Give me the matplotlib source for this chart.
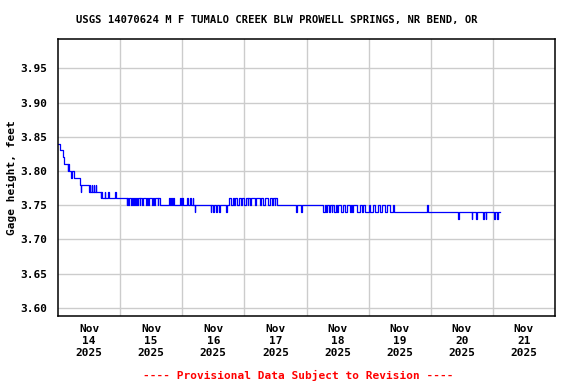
import numpy as np
import matplotlib
matplotlib.use("Agg")
import matplotlib.pyplot as plt

# gage height step changes, (hours since Nov 14 00:00, feet)
nov14 = [(0.0, 3.84), (0.75, 3.83), (1.75, 3.82), (2.5, 3.81), (3.75, 3.80), (4.0, 3.81),
         (4.25, 3.80), (5.0, 3.79), (5.25, 3.80), (6.25, 3.79), (8.5, 3.78), (8.75, 3.77),
         (9.0, 3.78), (12.0, 3.77), (12.25, 3.78), (12.5, 3.77), (13.0, 3.78), (13.25, 3.77),
         (13.75, 3.78), (14.0, 3.77), (14.5, 3.78), (14.75, 3.77), (16.5, 3.76), (16.75, 3.77),
         (17.0, 3.76), (18.0, 3.77), (18.25, 3.76), (19.5, 3.77), (19.75, 3.76), (22.0, 3.77),
         (22.25, 3.76)]
nov15 = [(26.5, 3.75), (26.75, 3.76), (27.0, 3.75), (27.25, 3.76), (28.25, 3.75), (28.5, 3.76),
         (29.0, 3.75), (29.25, 3.76), (29.75, 3.75), (30.0, 3.76), (30.5, 3.75), (30.75, 3.76),
         (31.5, 3.75), (31.75, 3.76), (32.5, 3.75), (32.75, 3.76), (34.0, 3.75), (34.25, 3.76),
         (34.75, 3.75), (35.0, 3.76), (36.5, 3.75), (36.75, 3.76), (37.25, 3.75), (37.5, 3.76),
         (38.5, 3.75), (38.75, 3.76), (39.5, 3.75), (43.0, 3.76), (43.25, 3.75), (43.75, 3.76),
         (44.0, 3.75), (44.5, 3.76), (44.75, 3.75), (47.0, 3.76), (47.5, 3.75)]
nov16 = [(48.0, 3.76), (48.25, 3.75), (49.75, 3.76), (50.25, 3.75), (51.0, 3.76), (51.25, 3.75),
         (52.0, 3.76), (52.25, 3.75), (52.75, 3.74), (53.0, 3.75), (59.0, 3.74), (59.25, 3.75),
         (60.0, 3.74), (60.25, 3.75), (61.0, 3.74), (61.5, 3.75), (62.25, 3.74), (62.5, 3.75),
         (65.0, 3.74), (65.25, 3.75), (66.25, 3.76), (66.75, 3.75), (67.5, 3.76), (68.0, 3.75),
         (68.5, 3.76), (69.25, 3.75), (70.0, 3.76), (70.75, 3.75), (71.0, 3.76), (72.0, 3.75)]
nov17 = [(72.75, 3.76), (73.25, 3.75), (73.5, 3.76), (74.0, 3.75), (74.75, 3.76), (76.0, 3.75),
         (76.5, 3.76), (78.0, 3.75), (78.5, 3.76), (79.25, 3.75), (80.0, 3.76), (81.25, 3.75),
         (81.75, 3.76), (82.5, 3.75), (83.0, 3.76), (83.75, 3.75), (84.0, 3.76), (84.75, 3.75),
         (92.0, 3.74), (92.5, 3.75), (94.0, 3.74), (94.25, 3.75)]
nov18 = [(102.5, 3.74), (103.0, 3.75), (103.5, 3.74), (104.0, 3.75), (104.5, 3.74), (105.25, 3.75),
         (105.75, 3.74), (106.0, 3.75), (106.5, 3.74), (107.25, 3.75), (107.75, 3.74), (108.0, 3.75),
         (109.25, 3.74), (110.0, 3.75), (110.75, 3.74), (111.75, 3.75), (112.75, 3.74), (113.0, 3.75),
         (113.75, 3.74), (114.0, 3.75), (115.5, 3.74), (116.5, 3.75), (117.25, 3.74), (118.0, 3.75)]
nov19 = [(118.5, 3.74), (120.0, 3.75), (120.5, 3.74), (121.75, 3.75), (122.5, 3.74), (123.75, 3.75),
         (124.5, 3.74), (125.0, 3.75), (126.25, 3.74), (127.0, 3.75), (128.25, 3.74), (129.5, 3.75),
         (129.75, 3.74), (142.5, 3.75), (143.0, 3.74)]
nov20 = [(154.5, 3.73), (155.0, 3.74), (159.75, 3.73), (160.0, 3.74), (161.5, 3.73), (161.75, 3.74),
         (164.25, 3.73), (164.5, 3.74), (165.25, 3.73), (165.5, 3.74), (168.5, 3.73), (168.75, 3.74),
         (169.75, 3.73), (170.0, 3.74), (170.6, 3.74)]

day_labels = ["Nov\n14\n2025", "Nov\n15\n2025", "Nov\n16\n2025", "Nov\n17\n2025",
              "Nov\n18\n2025", "Nov\n19\n2025", "Nov\n20\n2025", "Nov\n21\n2025"]
y_ticks = [3.60, 3.65, 3.70, 3.75, 3.80, 3.85, 3.90, 3.95]

title = "USGS 14070624 M F TUMALO CREEK BLW PROWELL SPRINGS, NR BEND, OR"

readings = np.array(nov14 + nov15 + nov16 + nov17 + nov18 + nov19 + nov20)
hours = readings[:, 0]
gage = readings[:, 1]

plt.rcParams['font.family'] = ['DejaVu Sans Mono']
plt.rcParams['font.weight'] = 'bold'

fig = plt.figure(figsize=(5.76, 3.84), dpi=100)
ax = fig.add_axes([58/576, 1 - 316/384, 497/576, 277/384])

ax.step(hours, gage, where='post', color='#0000ff', lw=0.9)

ax.set_xlim(0, 192)
ax.set_ylim(3.588, 3.993)
ax.set_xticks(np.arange(24, 192, 24))
ax.set_xticklabels([])
ax.set_xticks(np.arange(12, 192, 24), minor=True)
ax.set_xticklabels(day_labels, minor=True, fontsize=8, fontweight='bold')
ax.set_yticks(y_ticks)
ax.set_yticklabels(["%.2f" % v for v in y_ticks], fontsize=8, fontweight='bold')
ax.tick_params(which='both', length=0)
ax.tick_params(axis='x', which='minor', pad=6)
ax.tick_params(axis='y', pad=8)
ax.grid(True, which='major', color='#cccccc', lw=1)
ax.set_axisbelow(True)
for s in ax.spines.values():
    s.set_linewidth(1.1)

ax.set_ylabel("Gage height, feet", fontsize=8, fontweight='bold', labelpad=2)
fig.text(277/576, 1 - 19.5/384, title, ha='center', va='center', fontsize=7.6, fontweight='bold')
fig.text(298/576, 1 - 375/384, "---- Provisional Data Subject to Revision ----",
         ha='center', va='center', fontsize=8, fontweight='bold', color='#ff0000')

fig.savefig("out.png", dpi=100)
